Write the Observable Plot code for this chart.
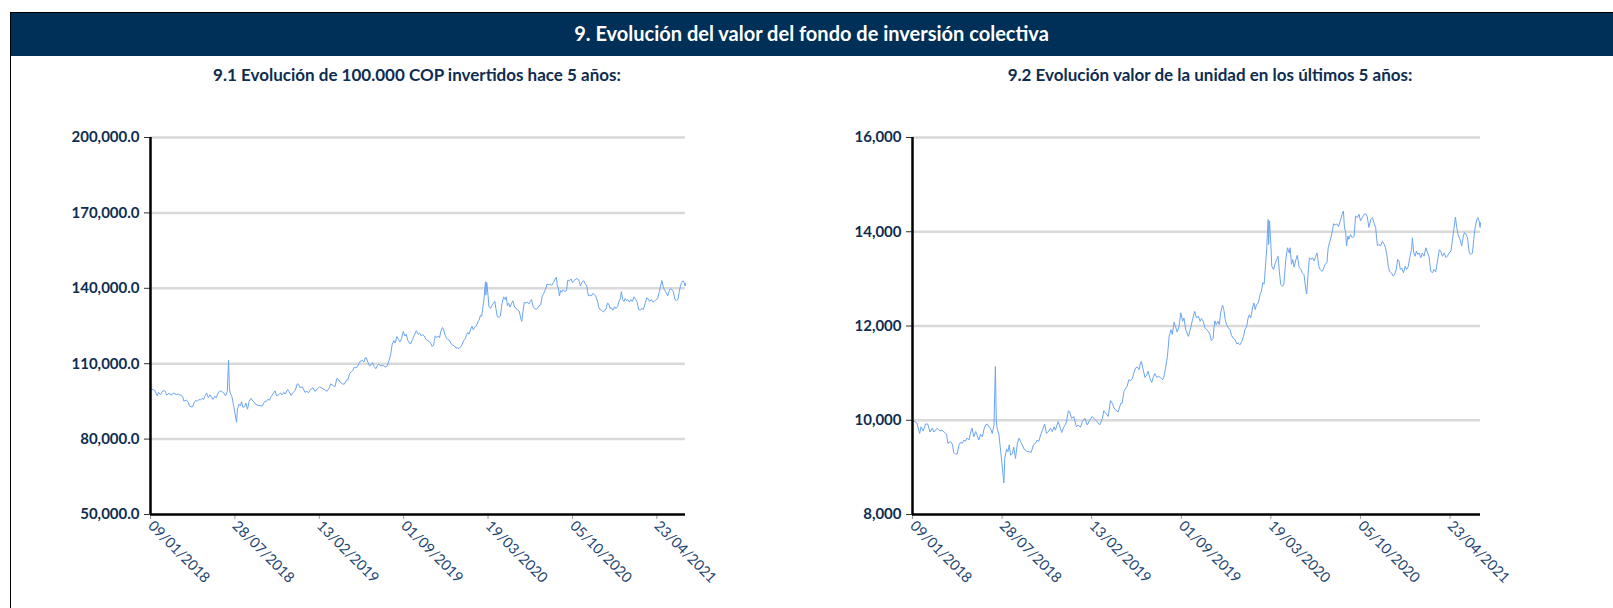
<!DOCTYPE html>
<html><head><meta charset="utf-8">
<script src="https://cdn.jsdelivr.net/npm/d3@7"></script>
<script src="https://cdn.jsdelivr.net/npm/@observablehq/plot@0.6"></script>
<style>
html,body{margin:0;padding:0;background:#fff;}
#page{position:relative;width:1613px;height:608px;overflow:hidden;font-family:Lato,"Open Sans",sans-serif;}
#frame{position:absolute;left:10px;top:12px;right:0;bottom:0;border-left:1px solid #000;border-top:1px solid #000;z-index:5;pointer-events:none;}
#header{position:absolute;left:10px;top:13px;right:0;height:40px;padding-bottom:3px;background:#002F57;color:#fff;font-weight:bold;font-size:20px;display:flex;align-items:center;justify-content:center;}
.sub{position:absolute;top:65px;font-weight:bold;font-size:17px;line-height:20px;color:#0E2D50;transform:translateX(-50%);white-space:nowrap;}
.chart{position:absolute;top:100px;}
</style></head>
<body>
<div id="page">
  <div id="header">9. Evolución del valor del fondo de inversión colectiva</div>
  <div class="sub" style="left:417px">9.1 Evolución de 100.000 COP invertidos hace 5 años:</div>
  <div class="sub" style="left:1210px">9.2 Evolución valor de la unidad en los últimos 5 años:</div>
  <div id="left" class="chart" style="left:0px"></div>
  <div id="right" class="chart" style="left:760px"></div>
  <div id="frame"></div>
</div>
<script>
const startDate = "2018-01-09";
const xTickLabels = ["09/01/2018","28/07/2018","13/02/2019","01/09/2019","19/03/2020","05/10/2020","23/04/2021"];
const yTicksInvestment = [50000, 80000, 110000, 140000, 170000, 200000];
const yTicksUnit = [8000, 10000, 12000, 14000, 16000];

// days elapsed since startDate for each observation
const dayOffsets = [0,10,16,19,24,29,34,39,44,48,55,61,66,72,76,79,85,89,92,96,100,104,107,111,115,118,122,126,130,133,137,141,144,148,152,156,159,163,167,171,174,178,182,185,187,189,193,197,200,204,206,210,213,216,219,223,226,230,234,238,241,245,249,255,260,265,270,275,278,282,286,290,295,
299,304,308,312,316,319,325,328,333,338,343,348,351,355,360,366,370,375,379,385,390,395,401,407,412,418,424,427,433,437,442,446,450,455,459,465,468,472,476,479,483,487,491,494,498,502,506,509,511,515,519,523,526,530,534,538,541,545,549,553,558,561,565,569,573,577,580,584,588,591,595,599,603,606,610,616,621,625,630,
634,638,642,645,649,653,657,660,664,667,671,673,675,678,682,685,688,692,695,698,701,705,709,712,716,720,724,727,731,735,739,742,746,749,752,755,759,762,765,768,772,776,779,782,785,788,791,792,794,795,797,800,802,806,809,813,816,819,822,826,829,833,837,841,843,846,849,852,856,859,863,867,870,874,878,880,883,886,890,893,897,900,903,907,910,914,917,921,925,928,932,935,938,940,944,947,951,955,
959,962,964,967,969,972,974,978,982,986,989,993,997,1000,1004,1008,1012,1015,1019,1023,1027,1030,1034,1036,1038,1041,1045,1049,1053,1056,1060,1062,1065,1069,1073,1076,1080,1083,1086,1089,1092,1096,1100,1103,1107,1110,1114,1116,1119,1122,1125,1128,1131,1135,1138,1142,1146,1150,1153,1157,1161,1164,1168,1172,1176,1179,1183,1187,1191,1194,1198,1202,1206,1209,1212,1215,1218,1222,1226,1229,1232,1235,1239,1243,1247,1250,1253,1256,1259,1262,1265,1267,1268];

const unitValues = [10000,9940,9720,9860,9770,9920,9920,9750,9830,9750,9830,9770,9790,9740,9700,9510,9550,9490,9320,9280,9290,9480,9530,9510,9580,9550,9620,9580,9750,9830,9650,9760,9690,9580,9700,9650,9790,9900,9920,9860,9830,9720,9900,11140,10000,9830,9690,9330,9050,8670,9190,9390,9330,9480,9260,9290,9430,9190,9510,9620,9550,9480,9390,9340,9330,9320,9480,9510,9580,9550,9690,9790,9920,
9720,9770,9830,9760,9860,9790,9970,9900,9740,9860,9940,10200,10180,10040,10080,9860,9900,9850,9970,10040,9900,9990,10080,10020,9970,9900,10040,10200,10130,10080,10420,10360,10260,10200,10180,10360,10360,10610,10680,10720,10860,10840,10890,11000,11110,11130,11070,11230,11250,11070,10910,10960,11040,10890,10800,10930,10990,10910,10930,10910,10860,10910,11110,11350,11780,11920,11820,12080,11960,11870,11990,12280,12100,12170,11920,11780,11960,12130,12310,
12170,12210,12100,12160,12100,11960,11920,11890,11820,11690,11730,11960,12110,12030,12100,12030,12280,12440,12350,12140,12030,11960,11920,11800,11740,11710,11620,11640,11600,11670,11780,11920,11990,12160,12240,12170,12380,12490,12350,12450,12490,12670,12740,12920,12890,13270,13660,13940,14260,13730,14230,13730,13270,13200,13310,13410,13480,13160,12880,12840,12880,13380,13660,13550,13660,13310,13410,13250,13410,13500,13250,13200,13130,13090,12770,12680,13090,13450,13410,13450,13380,13480,13550,13270,13200,13160,13200,13310,13340,13660,13800,13910,14050,14170,14140,14170,14110,14230,
14370,14440,14120,13980,13700,13910,13840,13940,13870,13910,14330,14300,14370,14230,14300,14370,14380,14330,14090,14260,14300,14190,14090,13870,13700,13730,13700,13800,13730,13660,13450,13270,13160,13130,13060,13090,13200,13410,13380,13200,13230,13130,13270,13200,13270,13450,13620,13870,13550,13480,13590,13520,13550,13450,13550,13480,13660,13550,13480,13160,13130,13200,13150,13380,13620,13590,13480,13550,13450,13480,13550,13590,13870,14090,14310,14090,13940,13840,13700,13870,13980,13960,13870,13550,13520,13550,13840,14090,14230,14300,14230,14090,14190];

const investmentValues = [100000,99400,97200,98600,97700,99200,99200,97500,98300,97500,98300,97700,97900,97400,97000,95100,95500,94900,93200,92800,92900,94800,95300,95100,95800,95500,96200,95800,97500,98300,96500,97600,96900,95800,97000,96500,97900,99000,99200,98600,98300,97200,99000,111400,100000,98300,96900,93300,90500,86700,91900,93900,93300,94800,92600,92900,94300,91900,95100,96200,95500,94800,93900,93400,93300,93200,94800,95100,95800,95500,96900,97900,99200,
97200,97700,98300,97600,98600,97900,99700,99000,97400,98600,99400,102000,101800,100400,100800,98600,99000,98500,99700,100400,99000,99900,100800,100200,99700,99000,100400,102000,101300,100800,104200,103600,102600,102000,101800,103600,103600,106100,106800,107200,108600,108400,108900,110000,111100,111300,110700,112300,112500,110700,109100,109600,110400,108900,108000,109300,109900,109100,109300,109100,108600,109100,111100,113500,117800,119200,118200,120800,119600,118700,119900,122800,121000,121700,119200,117800,119600,121300,123100,
121700,122100,121000,121600,121000,119600,119200,118900,118200,116900,117300,119600,121100,120300,121000,120300,122800,124400,123500,121400,120300,119600,119200,118000,117400,117100,116200,116400,116000,116700,117800,119200,119900,121600,122400,121700,123800,124900,123500,124500,124900,126700,127400,129200,128900,132700,136600,139400,142600,137300,142300,137300,132700,132000,133100,134100,134800,131600,128800,128400,128800,133800,136600,135500,136600,133100,134100,132500,134100,135000,132500,132000,131300,130900,127700,126800,130900,134500,134100,134500,133800,134800,135500,132700,132000,131600,132000,133100,133400,136600,138000,139100,140500,141700,141400,141700,141100,142300,
143700,144400,141200,139800,137000,139100,138400,139400,138700,139100,143300,143000,143700,142300,143000,143700,143800,143300,140900,142600,143000,141900,140900,138700,137000,137300,137000,138000,137300,136600,134500,132700,131600,131300,130600,130900,132000,134100,133800,132000,132300,131300,132700,132000,132700,134500,136200,138700,135500,134800,135900,135200,135500,134500,135500,134800,136600,135500,134800,131600,131300,132000,131500,133800,136200,135900,134800,135500,134500,134800,135500,135900,138700,140900,143100,140900,139400,138400,137000,138700,139800,139600,138700,135500,135200,135500,138400,140900,142300,143000,142300,140900,141900];

const parseDay = d3.utcParse("%Y-%m-%d");
const parseTick = d3.utcParse("%d/%m/%Y");
const start = parseDay(startDate);
const dates = dayOffsets.map(d => d3.utcDay.offset(start, d));
const xTicks = xTickLabels.map(parseTick);

function drawChart(el, {values, yTicks, yFormat, width, marginLeft, marginRight}) {
  const data = dates.map((d, i) => ({date: d, value: values[i]}));
  const yDomain = [yTicks[0], yTicks[yTicks.length - 1]];
  const chart = Plot.plot({
    width, height: 508,
    marginLeft, marginRight, marginTop: 37, marginBottom: 94,
    style: {background: "transparent", fontFamily: "Lato, 'Open Sans', sans-serif", fontSize: "14px", overflow: "visible"},
    x: {type: "utc", domain: [dates[0], dates[dates.length - 1]]},
    y: {domain: yDomain},
    marks: [
      Plot.ruleY(yTicks.slice(1), {stroke: "#d9d9d9", strokeWidth: 2.5}),
      Plot.lineY(data, {x: "date", y: "value", stroke: "#6BA4F5", strokeWidth: 1}),
      Plot.axisY({ticks: yTicks, tickFormat: yFormat, tickSize: 6, tickPadding: 5, fontWeight: "bold", fill: "#0E2D50", stroke: "#333", label: null, fontSize: 15}),
      Plot.axisX({ticks: xTicks, tickFormat: d3.utcFormat("%d/%m/%Y"), tickSize: 5, tickPadding: 4, tickRotate: 45, textAnchor: "start", fill: "#1D4471", stroke: "#999", label: null, fontSize: 14.5}),
      Plot.ruleX([dates[0]], {stroke: "#000", strokeWidth: 2.5}),
      Plot.ruleY([yDomain[0]], {stroke: "#000", strokeWidth: 2.5})
    ]
  });
  el.appendChild(chart);
}

drawChart(document.getElementById("left"), {
  values: investmentValues, yTicks: yTicksInvestment, yFormat: d3.format(",.1f"),
  width: 760, marginLeft: 150, marginRight: 75
});
drawChart(document.getElementById("right"), {
  values: unitValues, yTicks: yTicksUnit, yFormat: d3.format(","),
  width: 853, marginLeft: 152, marginRight: 133
});
</script>
</body></html>
